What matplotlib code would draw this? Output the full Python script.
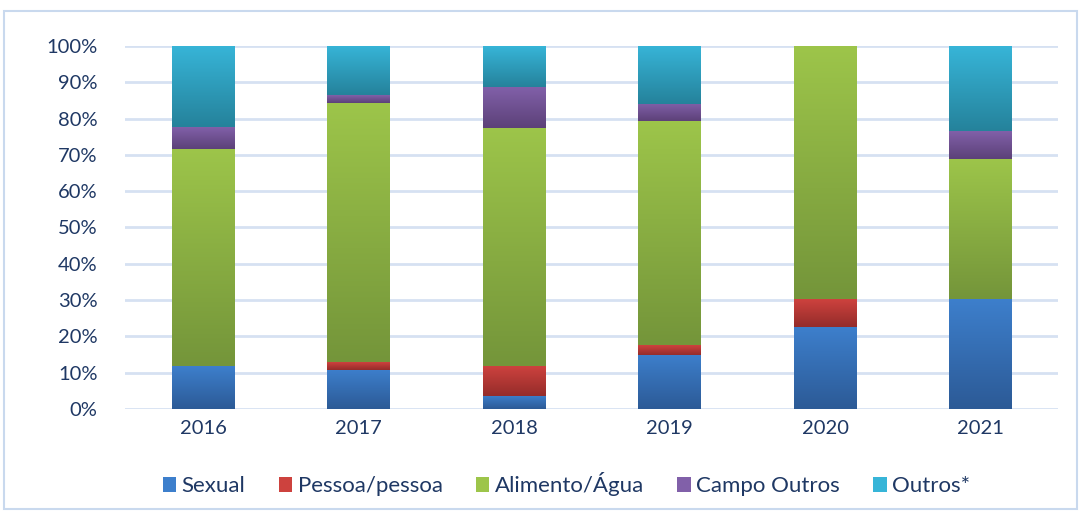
import matplotlib.pyplot as plt
import numpy as np
from matplotlib.colors import LinearSegmentedColormap
from matplotlib.patches import Rectangle

years = ["2016", "2017", "2018", "2019", "2020", "2021"]
series = ["Sexual", "Pessoa/pessoa", "Alimento/Água", "Campo Outros", "Outros*"]
sexual = [11.7, 10.8, 3.6, 14.9, 22.6, 30.3]
pessoa = [0.0, 2.1, 8.2, 2.7, 7.7, 0.0]
alimento = [59.9, 71.4, 65.6, 61.7, 69.7, 38.6]
campo = [6.0, 2.1, 11.3, 4.7, 0.0, 7.7]
outros = [22.4, 13.6, 11.3, 16.0, 0.0, 23.4]

# top / bottom colours of each gradient
tops = ["#3D7FCC", "#CD423E", "#9DC54A", "#8160A9", "#37B5D8"]
bottoms = ["#2C5A96", "#952C2A", "#74953A", "#5C4178", "#25829B"]

plt.rcParams['font.family'] = ['Lato', 'DejaVu Sans']
txt = "#1F3864"

fig = plt.figure(figsize=(10.81, 5.11), dpi=100)
ax = fig.add_axes([0.116, 0.2, 0.863, 0.71])

x = np.arange(len(years))
grad = np.linspace(1, 0, 256).reshape(-1, 1)
bottom = np.zeros(len(years))
for vals, name, ct, cb in zip([sexual, pessoa, alimento, campo, outros], series, tops, bottoms):
    bars = ax.bar(x, vals, 0.405, bottom=bottom, color=ct, label=name, zorder=3)
    cmap = LinearSegmentedColormap.from_list(name, [cb, ct])
    for b in bars:
        if b.get_height() <= 0:
            continue
        bx, by = b.get_x(), b.get_y()
        im = ax.imshow(grad, cmap=cmap, aspect='auto', zorder=4,
                       extent=[bx, bx + b.get_width(), by, by + b.get_height()])
        im.set_clip_path(b)
    bottom += np.array(vals)

ax.set_xlim(-0.5, len(years) - 0.5)
ax.set_ylim(0, 100)
ax.set_yticks(range(0, 101, 10))
ax.set_yticklabels([f"{v}%" for v in range(0, 101, 10)])
ax.set_xticks(x)
ax.set_xticklabels(years)
ax.tick_params(length=0, labelsize=14.5, colors=txt, pad=8)
ax.tick_params(axis='y', pad=20)
ax.grid(axis='y', color="#D6E1F2", linewidth=2, zorder=0)
for s in ax.spines.values():
    s.set_visible(False)

leg = ax.legend(loc='upper center', bbox_to_anchor=(0.473, -0.12), ncol=5, frameon=False,
                fontsize=16, handlelength=0.6, handleheight=0.6, handletextpad=0.25,
                columnspacing=1.5)
for t in leg.get_texts():
    t.set_color(txt)

fig.patches.append(Rectangle((0.004, 0.004), 0.992, 0.975, transform=fig.transFigure,
                             fill=False, edgecolor="#C9D9EE", linewidth=1.5))

fig.savefig("out.png", dpi=100)
